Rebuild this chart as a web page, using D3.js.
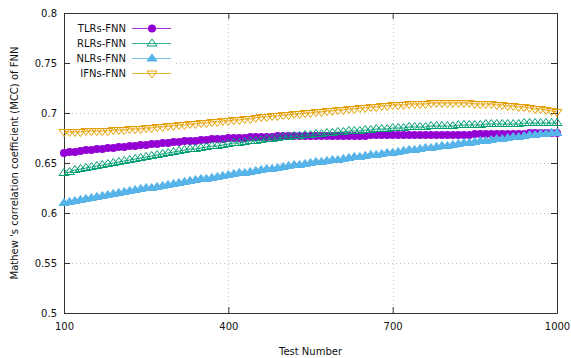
<!DOCTYPE html>
<html lang="en">
<head>
<meta charset="UTF-8">
<title>MCC of FNN</title>
<script src="https://d3js.org/d3.v7.min.js"></script>
<style type="text/css">
    body { margin: 0; background: #fff; }
    text { font-family: "DejaVu Sans", sans-serif; font-size: 10px; fill: #111; }
</style>
</head>
<body>
<div id="chartArea"></div>
<script type="text/javascript">
// test numbers 100, 110, ..., 1000
var testNumbers = d3.range(100, 1001, 10);

var tlrs = [
    0.660, 0.661, 0.661, 0.662, 0.663, 0.663, 0.664, 0.664, 0.665, 0.665, 0.666,
    0.666, 0.667, 0.667, 0.668, 0.668, 0.669, 0.669, 0.670, 0.670, 0.671,
    0.671, 0.672, 0.672, 0.672, 0.673, 0.673, 0.674, 0.674, 0.674, 0.675,
    0.675, 0.675, 0.675, 0.676, 0.676, 0.676, 0.676, 0.676, 0.677, 0.677,
    0.677, 0.677, 0.677, 0.677, 0.677, 0.677, 0.677, 0.677, 0.677, 0.677,
    0.677, 0.677, 0.677, 0.677, 0.677, 0.678, 0.678, 0.678, 0.678, 0.678,
    0.678, 0.678, 0.678, 0.678, 0.678, 0.678, 0.678, 0.678, 0.678, 0.678,
    0.678, 0.678, 0.678, 0.678, 0.679, 0.679, 0.679, 0.679, 0.679, 0.679,
    0.679, 0.679, 0.679, 0.679, 0.680, 0.680, 0.680, 0.680, 0.680, 0.680
];
var rlrs = [
    0.640, 0.641, 0.643, 0.644, 0.645, 0.646, 0.647, 0.648, 0.649, 0.650, 0.651,
    0.652, 0.653, 0.654, 0.655, 0.656, 0.657, 0.658, 0.659, 0.660, 0.661,
    0.662, 0.663, 0.664, 0.664, 0.665, 0.666, 0.667, 0.667, 0.668, 0.669,
    0.670, 0.670, 0.671, 0.672, 0.672, 0.673, 0.674, 0.674, 0.675, 0.676,
    0.676, 0.677, 0.677, 0.678, 0.678, 0.679, 0.679, 0.680, 0.680, 0.681,
    0.681, 0.682, 0.682, 0.682, 0.683, 0.683, 0.684, 0.684, 0.684, 0.685,
    0.685, 0.685, 0.686, 0.686, 0.686, 0.686, 0.687, 0.687, 0.687, 0.687,
    0.687, 0.688, 0.688, 0.688, 0.688, 0.688, 0.689, 0.689, 0.689, 0.689,
    0.689, 0.689, 0.689, 0.690, 0.690, 0.690, 0.690, 0.690, 0.690, 0.690
];
var nlrs = [
    0.610, 0.611, 0.612, 0.613, 0.614, 0.615, 0.616, 0.617, 0.618, 0.619, 0.620,
    0.621, 0.622, 0.623, 0.624, 0.625, 0.625, 0.626, 0.627, 0.628, 0.629,
    0.630, 0.631, 0.632, 0.633, 0.634, 0.634, 0.635, 0.636, 0.637, 0.638,
    0.639, 0.640, 0.640, 0.641, 0.642, 0.643, 0.644, 0.644, 0.645, 0.646,
    0.647, 0.648, 0.648, 0.649, 0.650, 0.651, 0.651, 0.652, 0.653, 0.653,
    0.654, 0.655, 0.656, 0.656, 0.657, 0.658, 0.658, 0.659, 0.660, 0.660,
    0.661, 0.662, 0.663, 0.663, 0.664, 0.665, 0.665, 0.666, 0.667, 0.667,
    0.668, 0.669, 0.670, 0.670, 0.671, 0.672, 0.672, 0.673, 0.674, 0.674,
    0.675, 0.676, 0.676, 0.677, 0.678, 0.678, 0.679, 0.679, 0.680, 0.680
];
var ifns = [
    0.681, 0.681, 0.681, 0.681, 0.682, 0.682, 0.682, 0.682, 0.682, 0.683, 0.683,
    0.683, 0.684, 0.684, 0.684, 0.685, 0.685, 0.686, 0.686, 0.687, 0.687,
    0.688, 0.688, 0.689, 0.689, 0.690, 0.690, 0.691, 0.691, 0.692, 0.692,
    0.693, 0.693, 0.694, 0.694, 0.695, 0.696, 0.696, 0.697, 0.697, 0.698,
    0.698, 0.699, 0.699, 0.700, 0.700, 0.701, 0.701, 0.702, 0.702, 0.703,
    0.703, 0.704, 0.704, 0.705, 0.705, 0.706, 0.706, 0.707, 0.707, 0.708,
    0.708, 0.708, 0.709, 0.709, 0.709, 0.709, 0.710, 0.710, 0.710, 0.710,
    0.710, 0.710, 0.710, 0.710, 0.709, 0.709, 0.709, 0.709, 0.708, 0.708,
    0.707, 0.707, 0.706, 0.706, 0.705, 0.704, 0.704, 0.703, 0.702, 0.701
];

var seriesNames = ['TLRs-FNN', 'RLRs-FNN', 'NLRs-FNN', 'IFNs-FNN'];
var seriesColors = ['#9400d3', '#009e73', '#56b4e9', '#e69f00'];
var seriesMarkers = ['circle', 'triUpOpen', 'triUpFill', 'triDownOpen'];
var seriesValues = [tlrs, rlrs, nlrs, ifns];

var xTicks = [100, 400, 700, 1000];
var yTicks = [0.5, 0.55, 0.6, 0.65, 0.7, 0.75, 0.8];

var w = 571, h = 358;

var svg = d3.select('#chartArea').append('svg')
    .attr('width', w)
    .attr('height', h);

svg.append('rect').attr('width', w).attr('height', h).attr('fill', '#fff');

var xScale = d3.scaleLinear().domain([100, 1000]).range([64, 557]);
var yScale = d3.scaleLinear().domain([0.5, 0.8]).range([313, 13]);

// grid
var grid = svg.append('g')
    .attr('stroke', '#c4c4c4')
    .attr('stroke-width', 1)
    .attr('stroke-dasharray', '1,3');
grid.selectAll('.gy')
    .data(yTicks.slice(1, -1))
    .enter().append('line')
    .attr('x1', xScale(100)).attr('x2', xScale(1000))
    .attr('y1', function (d) { return Math.round(yScale(d)) + 0.5; })
    .attr('y2', function (d) { return Math.round(yScale(d)) + 0.5; });
grid.selectAll('.gx')
    .data(xTicks.slice(1, -1))
    .enter().append('line')
    .attr('y1', yScale(0.5)).attr('y2', yScale(0.8))
    .attr('x1', function (d) { return Math.round(xScale(d)) + 0.5; })
    .attr('x2', function (d) { return Math.round(xScale(d)) + 0.5; });

// axes, ticks pointing inward
var yFmt = function (d) { return String(+d.toFixed(2)); };
var xFmt = function (d) { return String(d); };
var axBottom = svg.append('g').attr('transform', 'translate(0,' + yScale(0.5) + ')')
    .call(d3.axisBottom(xScale).tickValues(xTicks).tickFormat(xFmt).tickSizeInner(-6).tickSizeOuter(0).tickPadding(10));
var axLeft = svg.append('g').attr('transform', 'translate(' + xScale(100) + ',0)')
    .call(d3.axisLeft(yScale).tickValues(yTicks).tickFormat(yFmt).tickSizeInner(-6).tickSizeOuter(0).tickPadding(7));
var axTop = svg.append('g').attr('transform', 'translate(0,' + yScale(0.8) + ')')
    .call(d3.axisTop(xScale).tickValues(xTicks).tickSizeInner(-6).tickSizeOuter(0).tickFormat(''));
var axRight = svg.append('g').attr('transform', 'translate(' + xScale(1000) + ',0)')
    .call(d3.axisRight(yScale).tickValues(yTicks).tickSizeInner(-6).tickSizeOuter(0).tickFormat(''));

[axBottom, axLeft, axTop, axRight].forEach(function (a) {
    a.selectAll('.tick line').attr('stroke', '#333');
    a.select('.domain').attr('stroke', '#333');
    a.attr('font-family', '"DejaVu Sans", sans-serif').attr('font-size', 10);
    a.selectAll('text').attr('fill', '#111');
});

// marker shapes
function markerPath(type) {
    if (type === 'triUpOpen' || type === 'triUpFill') {
        return 'M0,-4.5L5,2.5L-5,2.5Z';
    }
    if (type === 'triDownOpen') {
        return 'M0,4.5L5,-2.5L-5,-2.5Z';
    }
    return null;
}
function drawMarker(g, type, color) {
    if (type === 'circle') {
        g.append('circle').attr('r', 4).attr('fill', color);
    } else {
        g.append('path')
            .attr('d', markerPath(type))
            .attr('fill', type === 'triUpFill' ? color : 'none')
            .attr('stroke', color)
            .attr('stroke-width', 1);
    }
}

var line = d3.line()
    .x(function (d) { return xScale(d[0]); })
    .y(function (d) { return yScale(d[1]); });

seriesValues.forEach(function (vals, s) {
    var pts = testNumbers.map(function (t, i) { return [t, vals[i]]; });
    var g = svg.append('g');
    g.append('path')
        .datum(pts)
        .attr('d', line)
        .attr('fill', 'none')
        .attr('stroke', seriesColors[s])
        .attr('stroke-width', 1);
    g.selectAll('.pt')
        .data(pts)
        .enter().append('g')
        .attr('transform', function (d) { return 'translate(' + xScale(d[0]) + ',' + yScale(d[1]) + ')'; })
        .each(function () { drawMarker(d3.select(this), seriesMarkers[s], seriesColors[s]); });
});

// legend (opaque box)
svg.append('rect')
    .attr('x', 70).attr('y', 19).attr('width', 106).attr('height', 62)
    .attr('fill', '#fff');
var legend = svg.append('g');
seriesNames.forEach(function (name, i) {
    var ly = 28.5 + i * 15;
    legend.append('text')
        .attr('x', 126).attr('y', ly + 3.5)
        .attr('text-anchor', 'end')
        .text(name);
    legend.append('line')
        .attr('x1', 132).attr('x2', 171)
        .attr('y1', ly).attr('y2', ly)
        .attr('stroke', seriesColors[i])
        .attr('stroke-opacity', 0.8)
        .attr('stroke-width', 1);
    var mg = legend.append('g').attr('transform', 'translate(152,' + ly + ')');
    drawMarker(mg, seriesMarkers[i], seriesColors[i]);
});

// axis titles
svg.append('text')
    .attr('x', (xScale(100) + xScale(1000)) / 2)
    .attr('y', 355)
    .attr('text-anchor', 'middle')
    .text('Test Number');
svg.append('text')
    .attr('transform', 'translate(18,' + (yScale(0.5) + yScale(0.8)) / 2 + ') rotate(-90)')
    .attr('text-anchor', 'middle')
    .text("Mathew 's correlation coefficient (MCC) of FNN");
</script>
</body>
</html>
